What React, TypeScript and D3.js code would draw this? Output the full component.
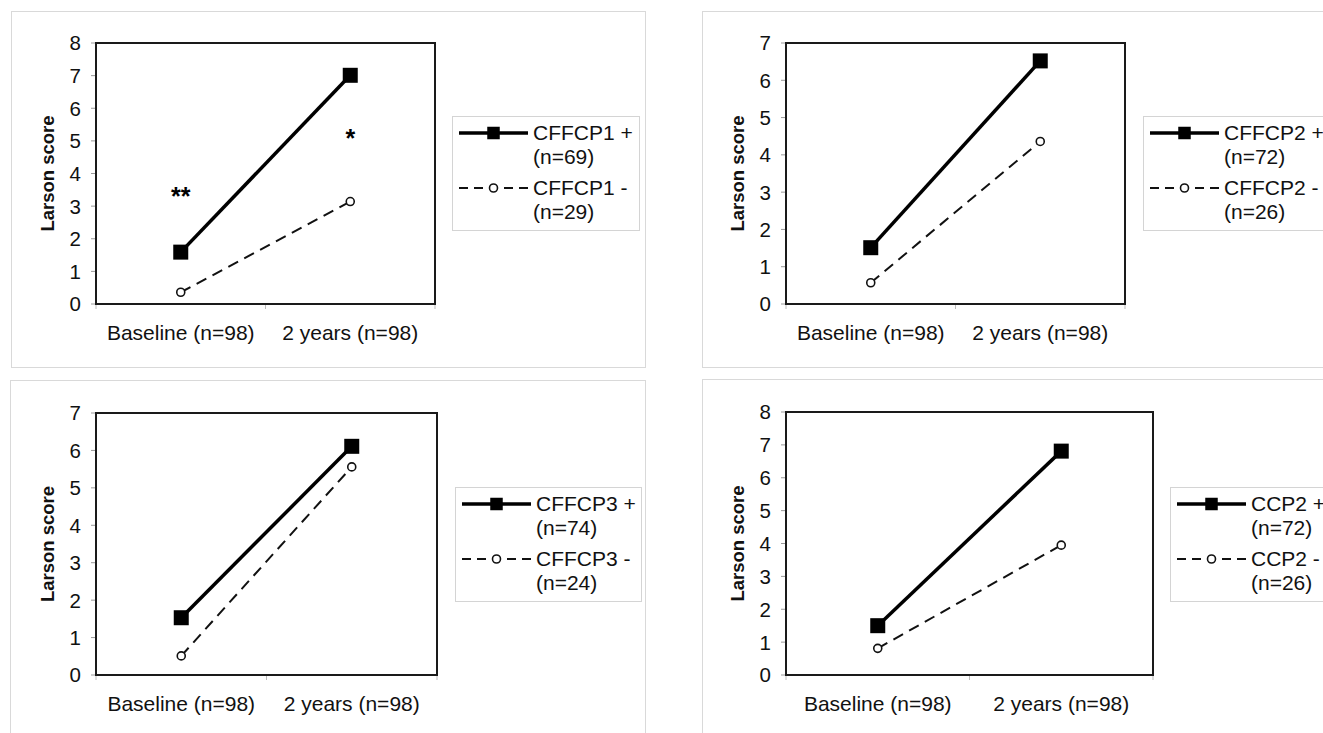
import React from "react";
import * as d3 from "d3";

// ---- data ----
const categories = ["Baseline (n=98)", "2 years (n=98)"];
const ticks8 = [0, 1, 2, 3, 4, 5, 6, 7, 8];
const ticks7 = [0, 1, 2, 3, 4, 5, 6, 7];
const yAxisTitle = "Larson score";

const cffcp1Pos = [1.59, 7.01];
const cffcp1Neg = [0.36, 3.14];
const cffcp2Pos = [1.51, 6.52];
const cffcp2Neg = [0.57, 4.36];
const cffcp3Pos = [1.53, 6.11];
const cffcp3Neg = [0.51, 5.56];
const ccp2Pos = [1.5, 6.81];
const ccp2Neg = [0.81, 3.95];

const legend1 = [["CFFCP1 +", "(n=69)"], ["CFFCP1 -", "(n=29)"]];
const legend2 = [["CFFCP2 +", "(n=72)"], ["CFFCP2 -", "(n=26)"]];
const legend3 = [["CFFCP3 +", "(n=74)"], ["CFFCP3 -", "(n=24)"]];
const legend4 = [["CCP2 +", "(n=72)"], ["CCP2 -", "(n=26)"]];

const sig1 = [
  { cat: 0, value: 3.43, text: "**" },
  { cat: 1, value: 5.2, text: "*" },
];

const FONT = "'Liberation Sans', Arial, Helvetica, sans-serif";

type Layout = {
  frame: { x: number; y: number; w: number; h: number };
  plot: { l: number; r: number; t: number; b: number };
  legend: { x: number; y: number; w: number; h: number };
};

type PanelProps = {
  layout: Layout;
  ticks: number[];
  pos: number[];
  neg: number[];
  legend: string[][];
  sig?: { cat: number; value: number; text: string }[];
};

function Panel({ layout, ticks, pos, neg, legend, sig }: PanelProps) {
  const { frame, plot, legend: lg } = layout;
  const x = d3.scaleBand<string>().domain(categories).range([plot.l, plot.r]).padding(0);
  const y = d3.scaleLinear().domain([0, d3.max(ticks) as number]).range([plot.b, plot.t]);
  const cx = (i: number) => (x(categories[i]) as number) + x.bandwidth() / 2;
  const line = d3
    .line<number>()
    .x((_, i) => cx(i))
    .y((d) => y(d));
  const xTickPos = [...categories.map((c) => x(c) as number), plot.r];
  const sq = 15;
  const lsq = 12.5;
  const symX0 = lg.x + 7;
  const symX1 = lg.x + 76;
  const symMid = (symX0 + symX1) / 2;
  const textX = lg.x + 81;
  const row1 = lg.y + 17;
  const row2 = lg.y + 72;
  return (
    <g>
      <rect x={frame.x + 0.5} y={frame.y + 0.5} width={frame.w} height={frame.h} fill="#fff" stroke="#d9d9d9" strokeWidth={1} />
      {ticks.map((t) => (
        <g key={"yt" + t}>
          <line x1={plot.l - 5} x2={plot.l} y1={y(t)} y2={y(t)} stroke="#999" strokeWidth={1} />
          <text x={plot.l - 15} y={y(t)} dy="0.36em" textAnchor="end" fontSize={20.5} fontFamily={FONT} fill="#111">
            {t}
          </text>
        </g>
      ))}
      {xTickPos.map((p, i) => (
        <line key={"xt" + i} x1={p} x2={p} y1={plot.b} y2={plot.b + 5} stroke="#bbb" strokeWidth={1} />
      ))}
      {categories.map((c, i) => (
        <text key={c} x={cx(i)} y={plot.b + 36} textAnchor="middle" fontSize={21} fontFamily={FONT} fill="#111">
          {c}
        </text>
      ))}
      <text
        transform={`translate(${plot.l - 42},${(plot.t + plot.b) / 2}) rotate(-90)`}
        textAnchor="middle"
        fontSize={18.5}
        fontWeight="bold"
        fontFamily={FONT}
        fill="#111"
      >
        {yAxisTitle}
      </text>
      <rect x={plot.l} y={plot.t} width={plot.r - plot.l} height={plot.b - plot.t} fill="none" stroke="#1a1a1a" strokeWidth={2} />
      <path d={line(neg) as string} fill="none" stroke="#111" strokeWidth={2} strokeDasharray="11,7" />
      {neg.map((v, i) => (
        <circle key={"n" + i} cx={cx(i)} cy={y(v)} r={4} fill="#fff" stroke="#111" strokeWidth={1.6} />
      ))}
      <path d={line(pos) as string} fill="none" stroke="#000" strokeWidth={3.5} />
      {pos.map((v, i) => (
        <rect key={"p" + i} x={cx(i) - sq / 2} y={y(v) - sq / 2} width={sq} height={sq} fill="#000" />
      ))}
      {sig &&
        sig.map((s, i) => (
          <text key={"s" + i} x={cx(s.cat)} y={y(s.value) + 13} textAnchor="middle" fontSize={25} fontWeight="bold" fontFamily={FONT} fill="#000">
            {s.text}
          </text>
        ))}
      <rect x={lg.x + 0.5} y={lg.y + 0.5} width={lg.w} height={lg.h} fill="#fff" stroke="#d4d4d4" strokeWidth={1} />
      <line x1={symX0} x2={symX1} y1={row1} y2={row1} stroke="#000" strokeWidth={3.5} />
      <rect x={symMid - lsq / 2} y={row1 - lsq / 2} width={lsq} height={lsq} fill="#000" />
      <line x1={symX0} x2={symX1} y1={row2} y2={row2} stroke="#111" strokeWidth={2} strokeDasharray="9,6" />
      <circle cx={symMid} cy={row2} r={4} fill="#fff" stroke="#111" strokeWidth={1.6} />
      {legend.map((entry, k) =>
        entry.map((ln, j) => (
          <text
            key={`l${k}${j}`}
            x={textX}
            y={lg.y + (k === 0 ? 24 : 79) + j * 24}
            fontSize={21}
            fontFamily={FONT}
            fill="#111"
          >
            {ln}
          </text>
        ))
      )}
    </g>
  );
}

const layouts: Layout[] = [
  { frame: { x: 11, y: 11, w: 634, h: 356 }, plot: { l: 96, r: 435, t: 43, b: 304 }, legend: { x: 452, y: 116, w: 187, h: 114 } },
  { frame: { x: 702, y: 11, w: 700, h: 356 }, plot: { l: 786, r: 1125, t: 43, b: 304 }, legend: { x: 1143, y: 116, w: 250, h: 114 } },
  { frame: { x: 10, y: 380, w: 635, h: 400 }, plot: { l: 96, r: 437, t: 413, b: 675 }, legend: { x: 455, y: 487, w: 186, h: 114 } },
  { frame: { x: 702, y: 379, w: 700, h: 400 }, plot: { l: 786, r: 1153, t: 412, b: 675 }, legend: { x: 1170, y: 487, w: 250, h: 114 } },
];

export default function App() {
  return (
    <svg
      width={1323}
      height={733}
      viewBox="0 0 1323 733"
      style={{ position: "absolute", left: 0, top: 0, background: "#fff", display: "block" }}
    >
      <rect x={0} y={0} width={1323} height={733} fill="#fff" />
      <Panel layout={layouts[0]} ticks={ticks8} pos={cffcp1Pos} neg={cffcp1Neg} legend={legend1} sig={sig1} />
      <Panel layout={layouts[1]} ticks={ticks7} pos={cffcp2Pos} neg={cffcp2Neg} legend={legend2} />
      <Panel layout={layouts[2]} ticks={ticks7} pos={cffcp3Pos} neg={cffcp3Neg} legend={legend3} />
      <Panel layout={layouts[3]} ticks={ticks8} pos={ccp2Pos} neg={ccp2Neg} legend={legend4} />
    </svg>
  );
}
